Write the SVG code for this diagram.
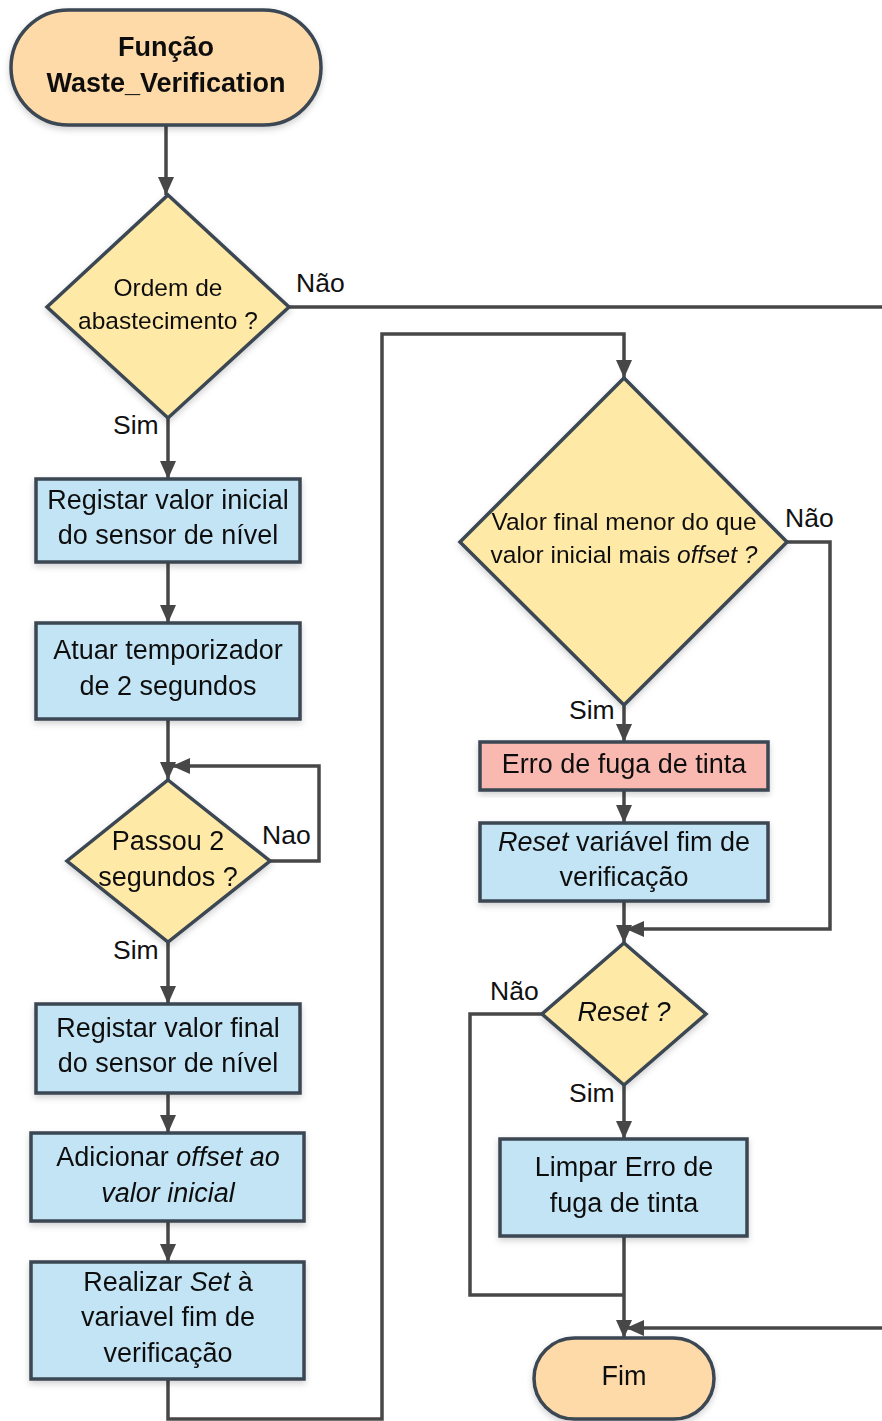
<svg xmlns="http://www.w3.org/2000/svg" width="882" height="1421" viewBox="0 0 882 1421">
  <style>
    .t { font-family: "Liberation Sans", Arial, sans-serif; font-size: 27px; fill: #111; text-anchor: middle; }
    .ts { font-size: 24.5px; }
    .b { font-weight: bold; }
    .lbl { font-family: "Liberation Sans", Arial, sans-serif; font-size: 26.5px; fill: #111; }
    .term { fill: #fddaa8; stroke: #3b4652; stroke-width: 3.5; }
    .proc { fill: #c3e4f5; stroke: #3b4652; stroke-width: 3.5; }
    .err { fill: #f9b8b0; stroke: #3b4652; stroke-width: 3.5; }
    .dec { fill: #ffe9a7; stroke: #3b4652; stroke-width: 3.5; stroke-linejoin: miter; }
    .wire { fill: none; stroke: #474747; stroke-width: 3.5; }
    .arr { marker-end: url(#head); }
  </style>
  <defs>
    <marker id="head" markerUnits="userSpaceOnUse" markerWidth="20" markerHeight="18" refX="18" refY="8" orient="auto">
      <path d="M0,0 L18,8 L0,16 Z" fill="#474747"/>
    </marker>
    <filter id="sh" x="-10%" y="-10%" width="120%" height="125%">
      <feDropShadow dx="0" dy="3" stdDeviation="3" flood-color="#000" flood-opacity="0.18"/>
    </filter>
  </defs>

  <!-- connectors -->
  <g id="connectors">
    <path class="wire arr" d="M166,125 V195"/>
    <path class="wire" d="M289,307 H882"/>
    <path class="wire arr" d="M168,418 V479"/>
    <path class="wire arr" d="M168,562 V623"/>
    <path class="wire arr" d="M168,719 V780"/>
    <path class="wire arr" d="M270,861 H319 V766 H172"/>
    <path class="wire arr" d="M168,942 V1004"/>
    <path class="wire arr" d="M168,1093 V1133"/>
    <path class="wire arr" d="M168,1221 V1262"/>
    <path class="wire arr" d="M168,1379 V1419 H382 V334 H624 V378"/>
    <path class="wire arr" d="M787,542 H830 V929 H626"/>
    <path class="wire arr" d="M624,705 V742"/>
    <path class="wire arr" d="M624,790 V823"/>
    <path class="wire arr" d="M624,901 V943"/>
    <path class="wire" d="M542,1014 H470 V1295 H624"/>
    <path class="wire arr" d="M624,1085 V1139"/>
    <path class="wire arr" d="M624,1236 V1338"/>
    <path class="wire arr" d="M882,1328 H626"/>
  </g>

  <!-- branch labels -->
  <g id="labels">
    <text class="lbl" x="296" y="292">Não</text>
    <text class="lbl" x="113" y="434">Sim</text>
    <text class="lbl" x="262" y="844">Nao</text>
    <text class="lbl" x="113" y="959">Sim</text>
    <text class="lbl" x="785" y="527">Não</text>
    <text class="lbl" x="569" y="719">Sim</text>
    <text class="lbl" x="490" y="1000">Não</text>
    <text class="lbl" x="569" y="1102">Sim</text>
  </g>

  <g id="start" filter="url(#sh)">
    <rect class="term" x="11" y="10" width="310" height="115" rx="57.5"/>
    <text class="t b" x="166" y="56">Função</text>
    <text class="t b" x="166" y="92">Waste_Verification</text>
  </g>

  <g id="ordem" filter="url(#sh)">
    <polygon class="dec" points="168,195 289,307 168,418 47,307"/>
    <text class="t ts" x="168" y="296">Ordem de</text>
    <text class="t ts" x="168" y="329">abastecimento ?</text>
  </g>

  <g id="registar-inicial" filter="url(#sh)">
    <rect class="proc" x="36" y="479" width="264" height="83"/>
    <text class="t" x="168" y="509">Registar valor inicial</text>
    <text class="t" x="168" y="544">do sensor de nível</text>
  </g>

  <g id="temporizador" filter="url(#sh)">
    <rect class="proc" x="36" y="623" width="264" height="96"/>
    <text class="t" x="168" y="659">Atuar temporizador</text>
    <text class="t" x="168" y="695">de 2 segundos</text>
  </g>

  <g id="passou" filter="url(#sh)">
    <polygon class="dec" points="168,780 270,861 168,942 67,861"/>
    <text class="t" x="168" y="850">Passou 2</text>
    <text class="t" x="168" y="886">segundos ?</text>
  </g>

  <g id="registar-final" filter="url(#sh)">
    <rect class="proc" x="36" y="1004" width="264" height="89"/>
    <text class="t" x="168" y="1037">Registar valor final</text>
    <text class="t" x="168" y="1072">do sensor de nível</text>
  </g>

  <g id="offset" filter="url(#sh)">
    <rect class="proc" x="31" y="1133" width="273" height="88"/>
    <text class="t" x="168" y="1166">Adicionar <tspan font-style="italic">offset ao</tspan></text>
    <text class="t" x="168" y="1202" font-style="italic">valor inicial</text>
  </g>

  <g id="set" filter="url(#sh)">
    <rect class="proc" x="31" y="1262" width="273" height="117"/>
    <text class="t" x="168" y="1291">Realizar <tspan font-style="italic">Set</tspan> à</text>
    <text class="t" x="168" y="1326">variavel fim de</text>
    <text class="t" x="168" y="1362">verificação</text>
  </g>

  <g id="comparar" filter="url(#sh)">
    <polygon class="dec" points="624,378 787,542 624,705 460,542"/>
    <text class="t ts" x="624" y="530">Valor final menor do que</text>
    <text class="t ts" x="624" y="563">valor inicial mais <tspan font-style="italic">offset ?</tspan></text>
  </g>

  <g id="erro" filter="url(#sh)">
    <rect class="err" x="480" y="742" width="288" height="48"/>
    <text class="t" x="624" y="773">Erro de fuga de tinta</text>
  </g>

  <g id="reset-var" filter="url(#sh)">
    <rect class="proc" x="480" y="823" width="288" height="78"/>
    <text class="t" x="624" y="851"><tspan font-style="italic">Reset</tspan> variável fim de</text>
    <text class="t" x="624" y="886">verificação</text>
  </g>

  <g id="reset" filter="url(#sh)">
    <polygon class="dec" points="624,943 706,1014 624,1085 542,1014"/>
    <text class="t" x="624" y="1021" font-style="italic">Reset ?</text>
  </g>

  <g id="limpar" filter="url(#sh)">
    <rect class="proc" x="500" y="1139" width="247" height="97"/>
    <text class="t" x="624" y="1176">Limpar Erro de</text>
    <text class="t" x="624" y="1212">fuga de tinta</text>
  </g>

  <g id="fim" filter="url(#sh)">
    <rect class="term" x="534" y="1338" width="180" height="81" rx="40.5"/>
    <text class="t" x="624" y="1385">Fim</text>
  </g>
</svg>
